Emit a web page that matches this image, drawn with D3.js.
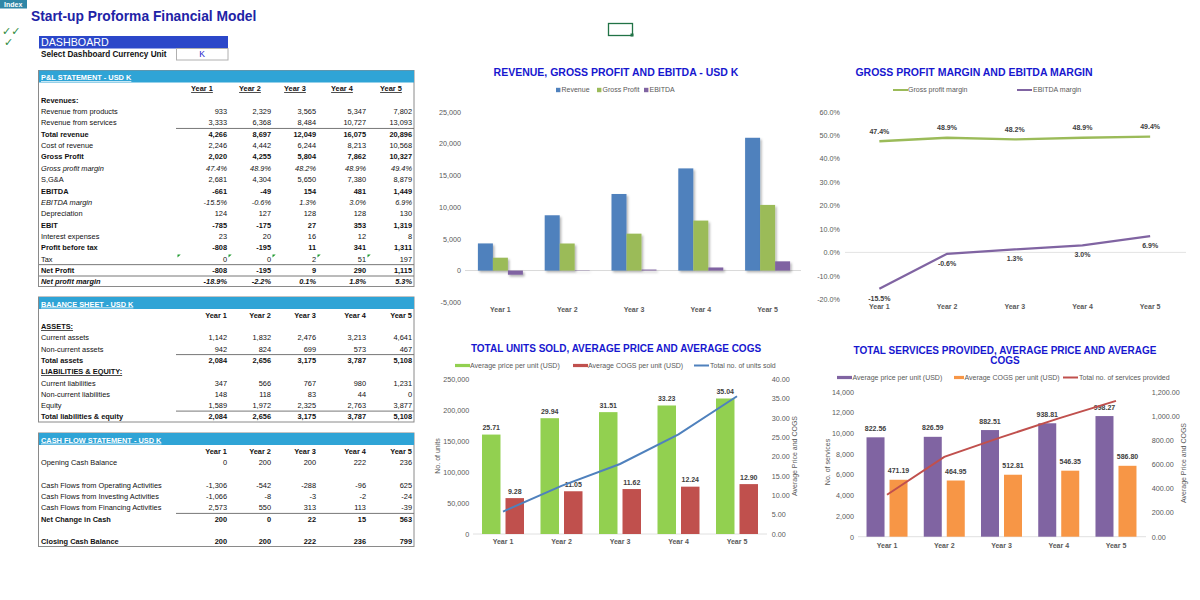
<!DOCTYPE html>
<html><head><meta charset="utf-8">
<script src="https://cdn.jsdelivr.net/npm/d3@7"></script>
<style>
body{margin:0;background:#fff;}
svg{font-family:"Liberation Sans",Arial,sans-serif;display:block;}
</style></head><body>
<svg id="c" width="1200" height="600"></svg>
<script>
// ---------------- DATA ----------------
const years = ["Year 1","Year 2","Year 3","Year 4","Year 5"];
// P&L (USD K)
const revenueProducts = [933,2329,3565,5347,7802];
const revenueServices = [3333,6368,8484,10727,13093];
const totalRevenue = [4266,8697,12049,16075,20896];
const costOfRevenue = [2246,4442,6244,8213,10568];
const grossProfit = [2020,4255,5804,7862,10327];
const grossProfitMargin = [47.4,48.9,48.2,48.9,49.4];
const sga = [2681,4304,5650,7380,8879];
const ebitda = [-661,-49,154,481,1449];
const ebitdaMargin = [-15.5,-0.6,1.3,3.0,6.9];
const depreciation = [124,127,128,128,130];
const ebit = [-785,-175,27,353,1319];
const interestExpenses = [23,20,16,12,8];
const profitBeforeTax = [-808,-195,11,341,1311];
const tax = [0,0,2,51,197];
const netProfit = [-808,-195,9,290,1115];
const netProfitMargin = [-18.9,-2.2,0.1,1.8,5.3];
// Balance sheet
const currentAssets = [1142,1832,2476,3213,4641];
const nonCurrentAssets = [942,824,699,573,467];
const totalAssets = [2084,2656,3175,3787,5108];
const currentLiabilities = [347,566,767,980,1231];
const nonCurrentLiabilities = [148,118,83,44,0];
const equity = [1589,1972,2325,2763,3877];
const totalLiabEquity = [2084,2656,3175,3787,5108];
// Cash flow
const openingCash = [0,200,200,222,236];
const cfOperating = [-1306,-542,-288,-96,625];
const cfInvesting = [-1066,-8,-3,-2,-24];
const cfFinancing = [2573,550,313,113,-39];
const netChangeCash = [200,0,22,15,563];
const closingCash = [200,200,222,236,799];
// Units chart
const unitPrice = [25.71,29.94,31.51,33.23,35.04];
const unitCogs = [9.28,11.05,11.62,12.24,12.90];
const unitsSold = [36290,77790,113140,160910,222660];
// Services chart
const servicePrice = [822.56,826.59,882.51,938.81,998.27];
const serviceCogs = [471.19,464.95,512.81,546.35,586.80];
const servicesProvided = [4052,7704,9613,11426,13116];
// Axis ticks
const ticksRev = [-5000,0,5000,10000,15000,20000,25000];
const ticksMargin = [-20,-10,0,10,20,30,40,50,60];
const ticksUnits = [0,50000,100000,150000,200000,250000];
const ticksUnitPrice = [0,5,10,15,20,25,30,35,40];
const ticksServices = [0,2000,4000,6000,8000,10000,12000,14000];
const ticksServicePrice = [0,200,400,600,800,1000,1200];

// ---------------- HELPERS ----------------
const L = d3.formatLocale({decimal:".",thousands:",",grouping:[3],currency:["$",""],minus:"-"});
const fInt = L.format(",");
const fPct = v => L.format(".1f")(v) + "%";
const f2 = L.format(",.2f");
const svg = d3.select("#c");
const AX = "#595959", LBL = "#404040";

const defs = svg.append("defs");
const flt = defs.append("filter").attr("id","sh").attr("x","-30%").attr("y","-30%").attr("width","180%").attr("height","180%");
flt.append("feDropShadow").attr("dx",1.5).attr("dy",1.8).attr("stdDeviation",1.3).attr("flood-color","#000").attr("flood-opacity",0.3);

// ---------------- HEADER ----------------
svg.append("rect").attr("x",0).attr("y",0).attr("width",27).attr("height",8.5).attr("fill","#2f86a6");
svg.append("text").attr("x",4).attr("y",7).attr("font-size",7).attr("font-weight","bold").attr("fill","#fff").text("Index");
svg.append("text").attr("x",31).attr("y",20.5).attr("font-size",13.8).attr("font-weight","bold").attr("fill","#1e23a6").text("Start-up Proforma Financial Model");
svg.append("text").attr("x",2).attr("y",35).attr("font-size",11).attr("fill","#2e8b3e").attr("font-family","DejaVu Sans").text("\u2713\u2713");
svg.append("text").attr("x",4).attr("y",46).attr("font-size",11).attr("fill","#2e8b3e").attr("font-family","DejaVu Sans").text("\u2713");
svg.append("rect").attr("x",39).attr("y",36).attr("width",189).attr("height",12.5).attr("fill","#2b47c9");
svg.append("text").attr("x",41).attr("y",46.3).attr("font-size",10.7).attr("fill","#fff").text("DASHBOARD");
svg.append("text").attr("x",41).attr("y",57).attr("font-size",8.2).attr("font-weight","bold").attr("fill","#111").text("Select Dashboard Currency Unit");
svg.append("rect").attr("x",176.5).attr("y",48.5).attr("width",51.5).attr("height",11.5).attr("fill","#fff").attr("stroke","#b0b0b0");
svg.append("text").attr("x",202).attr("y",57.3).attr("text-anchor","middle").attr("font-size",8.5).attr("fill","#1a1acc").text("K");
// selected cell marker
svg.append("rect").attr("x",608.5).attr("y",23.5).attr("width",24).attr("height",12).attr("fill","none").attr("stroke","#217346").attr("stroke-width",1.3);
svg.append("rect").attr("x",630.5).attr("y",33.5).attr("width",3).attr("height",3).attr("fill","#217346");

// ---------------- TABLES ----------------
const colR = [227,271,316,366,412];
const colLeft = [176,227,271,316,366];
const FS = 7.4;
function table(cfg){
  const g = svg.append("g");
  g.append("rect").attr("x",38.5).attr("y",cfg.top+0.5).attr("width",375.5).attr("height",cfg.bottom-cfg.top).attr("fill","#fff").attr("stroke","#8a8a8a");
  g.append("rect").attr("x",39).attr("y",cfg.top+0.5).attr("width",375).attr("height",12).attr("fill","#2fa4d6");
  g.append("text").attr("x",41).attr("y",cfg.top+10).attr("font-size",FS).attr("font-weight","bold").attr("fill","#fff")
    .attr("text-decoration","underline").text(cfg.title);
  // year headers
  g.selectAll("text.yh").data(years).join("text").attr("class","yh")
    .attr("x",(d,i)=>cfg.headCenters ? cfg.headCenters[i] : colR[i])
    .attr("y",cfg.yearY+2.7).attr("font-size",FS).attr("font-weight","bold").attr("fill","#111")
    .attr("text-anchor",cfg.headCenters?"middle":"end")
    .attr("text-decoration",cfg.headCenters?"underline":null).text(d=>d);
  cfg.rows.forEach((r,ri)=>{
    if(!r) return;
    const cy = cfg.firstY + ri*cfg.step;
    g.append("text").attr("x",41).attr("y",cy+2.7).attr("font-size",FS)
      .attr("font-weight",r.b?"bold":null).attr("font-style",r.i?"italic":null)
      .attr("text-decoration",r.u?"underline":null).attr("fill","#111").text(r.label);
    if(r.line){
      g.append("line").attr("x1",r.line==="full"?39:176).attr("x2",414).attr("y1",cy-5.6).attr("y2",cy-5.6)
       .attr("stroke","#777").attr("stroke-width",1);
    }
    if(r.v){
      g.selectAll(null).data(r.v).join("text").attr("x",(d,i)=>colR[i]).attr("y",cy+2.7)
        .attr("text-anchor","end").attr("font-size",FS)
        .attr("font-weight",r.b?"bold":null).attr("font-style",r.i?"italic":null).attr("fill","#111")
        .text(d=>r.pct?fPct(d):fInt(d));
      if(r.flag){
        g.selectAll(null).data(r.v).join("path")
         .attr("d",(d,i)=>{const x=colLeft[i]+1.5,y=cy-4.5;return `M${x},${y}h3.2l-3.2,3.2z`;})
         .attr("fill","#1e9a2e");
      }
    }
  });
}
table({title:"P&L STATEMENT - USD K", top:70, bottom:286, yearY:88.3, headCenters:[202,250,295,342,391],
  firstY:100, step:11.35, rows:[
  {label:"Revenues:",b:1},
  {label:"Revenue from products",v:revenueProducts},
  {label:"Revenue from services",v:revenueServices},
  {label:"Total revenue",v:totalRevenue,b:1,line:"part"},
  {label:"Cost of revenue",v:costOfRevenue},
  {label:"Gross Profit",v:grossProfit,b:1},
  {label:"Gross profit margin",v:grossProfitMargin,i:1,pct:1},
  {label:"S,G&A",v:sga},
  {label:"EBITDA",v:ebitda,b:1},
  {label:"EBITDA margin",v:ebitdaMargin,i:1,pct:1},
  {label:"Depreciation",v:depreciation},
  {label:"EBIT",v:ebit,b:1},
  {label:"Interest expenses",v:interestExpenses},
  {label:"Profit before tax",v:profitBeforeTax,b:1},
  {label:"Tax",v:tax,flag:1},
  {label:"Net Profit",v:netProfit,b:1,line:"full"},
  {label:"Net profit margin",v:netProfitMargin,b:1,i:1,pct:1,line:"full"}
]});
table({title:"BALANCE SHEET - USD K", top:296.5, bottom:421.5, yearY:315,
  firstY:326.3, step:11.3, rows:[
  {label:"ASSETS:",b:1,u:1},
  {label:"Current assets",v:currentAssets},
  {label:"Non-current assets",v:nonCurrentAssets},
  {label:"Total assets",v:totalAssets,b:1,line:"part"},
  {label:"LIABILITIES & EQUITY:",b:1,u:1},
  {label:"Current liabilities",v:currentLiabilities},
  {label:"Non-current liabilities",v:nonCurrentLiabilities},
  {label:"Equity",v:equity},
  {label:"Total liabilities & equity",v:totalLiabEquity,b:1,line:"part"}
]});
table({title:"CASH FLOW STATEMENT -  USD K", top:432.5, bottom:546, yearY:451.7,
  firstY:462.5, step:11.3, rows:[
  {label:"Opening Cash Balance",v:openingCash},
  null,
  {label:"Cash Flows from Operating Activities",v:cfOperating},
  {label:"Cash Flows from Investing Activities",v:cfInvesting},
  {label:"Cash Flows from Financing Activities",v:cfFinancing},
  {label:"Net Change in Cash",v:netChangeCash,b:1,line:"part"},
  null,
  {label:"Closing Cash Balance",v:closingCash,b:1}
]});

// ---------------- CHART UTILITIES ----------------
function title(lines,cx,y,fs){
  lines.forEach((t,i)=>svg.append("text").attr("x",cx).attr("y",y+i*10.5).attr("text-anchor","middle")
    .attr("font-size",fs).attr("font-weight","bold").attr("fill","#1717cf").text(t));
}
function styleAxis(g,fs,bold){
  g.select(".domain").remove();
  g.selectAll("text").attr("font-size",fs).attr("fill",AX).attr("font-weight",bold?"bold":null)
   .attr("font-family","'Liberation Sans',Arial,sans-serif");
}
function leftAxis(scale,ticks,fmt,x){
  const g = svg.append("g").attr("transform",`translate(${x},0)`)
    .call(d3.axisLeft(scale).tickValues(ticks).tickFormat(fmt).tickSize(0).tickPadding(0));
  styleAxis(g,7.2,false);
}
function rightAxis(scale,ticks,fmt,x){
  const g = svg.append("g").attr("transform",`translate(${x},0)`)
    .call(d3.axisRight(scale).tickValues(ticks).tickFormat(fmt).tickSize(0).tickPadding(0));
  styleAxis(g,7.2,false);
}
function bottomAxis(scale,y){
  const g = svg.append("g").attr("transform",`translate(0,${y-3})`)
    .call(d3.axisBottom(scale).tickSize(0).tickPadding(0));
  styleAxis(g,7,true);
}
function vTitle(t,x,y){
  svg.append("text").attr("transform",`translate(${x},${y}) rotate(-90)`).attr("text-anchor","middle")
    .attr("dy","0.35em").attr("font-size",7).attr("fill",AX).text(t);
}
function legend(items,y){
  items.forEach(it=>{
    if(it.type==="sq") svg.append("rect").attr("x",it.x).attr("y",y-2.2).attr("width",4.4).attr("height",4.4).attr("fill",it.color);
    else if(it.type==="bar") svg.append("rect").attr("x",it.x).attr("y",y-1.6).attr("width",it.w).attr("height",3.2).attr("fill",it.color);
    else svg.append("line").attr("x1",it.x).attr("x2",it.x+it.w).attr("y1",y).attr("y2",y).attr("stroke",it.color).attr("stroke-width",2);
    svg.append("text").attr("x",it.tx).attr("y",y).attr("dy","0.35em").attr("font-size",7).attr("fill",AX).text(it.label);
  });
}

// ---------------- CHART 1: Revenue, GP, EBITDA ----------------
title(["REVENUE, GROSS PROFIT AND EBITDA - USD K"],616,76,10.5);
const series1 = [
  {name:"Revenue",values:totalRevenue,color:"#4f81bd"},
  {name:"Gross Profit",values:grossProfit,color:"#9bbb59"},
  {name:"EBITDA",values:ebitda,color:"#8064a2"}];
legend([
  {type:"sq",x:556,tx:561.5,color:series1[0].color,label:"Revenue"},
  {type:"sq",x:597,tx:602.5,color:series1[1].color,label:"Gross Profit"},
  {type:"sq",x:644,tx:649.5,color:series1[2].color,label:"EBITDA"}],90);
const x1 = d3.scaleBand().domain(years).range([467,801]);
const y1 = d3.scaleLinear().domain([-5000,25000]).range([302.3,111.7]);
const s1 = d3.scaleBand().domain(series1.map(s=>s.name)).range([0,45]);
leftAxis(y1,ticksRev,fInt,461);
svg.append("line").attr("x1",465).attr("x2",801).attr("y1",y1(0)).attr("y2",y1(0)).attr("stroke","#d9d9d9");
series1.forEach(s=>{
  svg.append("g").attr("filter","url(#sh)").selectAll("rect").data(s.values).join("rect")
    .attr("x",(d,i)=>x1(years[i])+(x1.bandwidth()-45)/2+s1(s.name))
    .attr("width",s1.bandwidth())
    .attr("y",d=>Math.min(y1(d),y1(0))).attr("height",d=>Math.abs(y1(d)-y1(0)))
    .attr("fill",s.color);
});
bottomAxis(x1,310);

// ---------------- CHART 2: Margins ----------------
title(["GROSS PROFIT MARGIN AND EBITDA MARGIN"],974,75.5,10.5);
legend([
  {type:"line",x:893,w:15,tx:908,color:"#9bbb59",label:"Gross profit margin"},
  {type:"line",x:1017,w:15,tx:1033,color:"#8064a2",label:"EBITDA margin"}],90);
const x2 = d3.scaleBand().domain(years).range([845.5,1184]);
const y2 = d3.scaleLinear().domain([-20,60]).range([299.3,111.7]);
leftAxis(y2,ticksMargin,fPct,840);
svg.append("line").attr("x1",845).attr("x2",1186).attr("y1",y2(0)).attr("y2",y2(0)).attr("stroke","#e3e3e3");
const cx2 = i=>x2(years[i])+x2.bandwidth()/2;
const margins = [
  {values:grossProfitMargin,color:"#9bbb59",dy:-10},
  {values:ebitdaMargin,color:"#8064a2",dy:9.5}];
margins.forEach(m=>{
  svg.append("path").datum(m.values).attr("fill","none").attr("stroke",m.color).attr("stroke-width",2.3)
    .attr("d",d3.line().x((d,i)=>cx2(i)).y(d=>y2(d)));
  svg.append("g").selectAll("text").data(m.values).join("text")
    .attr("x",(d,i)=>cx2(i)).attr("y",d=>y2(d)+m.dy).attr("dy","0.35em").attr("text-anchor","middle")
    .attr("font-size",7).attr("font-weight","bold").attr("fill",LBL).text(fPct);
});
bottomAxis(x2,307);

// ---------------- CHART 3: Units ----------------
title(["TOTAL UNITS SOLD, AVERAGE PRICE AND AVERAGE COGS"],616,352,10);
legend([
  {type:"bar",x:455,w:15,tx:470,color:"#92d050",label:"Average price per unit (USD)"},
  {type:"bar",x:573,w:15,tx:588,color:"#c0504d",label:"Average COGS per unit (USD)"},
  {type:"line",x:694,w:15,tx:710,color:"#4f81bd",label:"Total no. of units sold"}],365.5);
const x3 = d3.scaleBand().domain(years).range([473.75,766.25]);
const yL3 = d3.scaleLinear().domain([0,250000]).range([534,379.3]);
const yR3 = d3.scaleLinear().domain([0,40]).range([534,379.3]);
const s3 = d3.scaleBand().domain(["price","cogs"]).range([0,42]).paddingInner(0.213);
leftAxis(yL3,ticksUnits,fInt,469.3);
rightAxis(yR3,ticksUnitPrice,L.format(".2f"),771.7);
vTitle("No. of units",438,456);
vTitle("Average Price and COGS",794.5,456);
svg.append("line").attr("x1",473).attr("x2",767).attr("y1",yL3(0)).attr("y2",yL3(0)).attr("stroke","#e0e0e0");
[{k:"price",values:unitPrice,color:"#92d050"},{k:"cogs",values:unitCogs,color:"#c0504d"}].forEach(s=>{
  const bx = i=>x3(years[i])+(x3.bandwidth()-42)/2+s3(s.k);
  svg.append("g").selectAll("rect").data(s.values).join("rect")
    .attr("x",(d,i)=>bx(i)).attr("width",s3.bandwidth())
    .attr("y",d=>yR3(d)).attr("height",d=>yR3(0)-yR3(d)).attr("fill",s.color);
  svg.append("g").selectAll("text").data(s.values).join("text")
    .attr("x",(d,i)=>bx(i)+s3.bandwidth()/2).attr("y",d=>yR3(d)-7).attr("dy","0.35em").attr("text-anchor","middle")
    .attr("font-size",7).attr("font-weight","bold").attr("fill",LBL).text(L.format(".2f"));
});
svg.append("path").datum(unitsSold).attr("fill","none").attr("stroke","#4f81bd").attr("stroke-width",2)
  .attr("d",d3.line().x((d,i)=>x3(years[i])+x3.bandwidth()/2).y(d=>yL3(d)));
bottomAxis(x3,542);

// ---------------- CHART 4: Services ----------------
title(["TOTAL SERVICES PROVIDED, AVERAGE PRICE AND AVERAGE","COGS"],1005,353.5,10);
legend([
  {type:"bar",x:837,w:15,tx:852.5,color:"#8064a2",label:"Average price per unit (USD)"},
  {type:"bar",x:954,w:10,tx:964.5,color:"#f79646",label:"Average COGS per unit (USD)"},
  {type:"line",x:1063,w:15,tx:1079,color:"#c0504d",label:"Total no. of services provided"}],377.5);
const x4 = d3.scaleBand().domain(years).range([858.4,1144.6]);
const yL4 = d3.scaleLinear().domain([0,14000]).range([536.7,391.7]);
const yR4 = d3.scaleLinear().domain([0,1200]).range([536.7,391.7]);
const s4 = d3.scaleBand().domain(["price","cogs"]).range([0,41]).paddingInner(0.217);
leftAxis(yL4,ticksServices,fInt,854);
rightAxis(yR4,ticksServicePrice,f2,1151.7);
vTitle("No. of services",828,462);
vTitle("Average Price and COGS",1183.5,463);
svg.append("line").attr("x1",858).attr("x2",1146).attr("y1",yL4(0)).attr("y2",yL4(0)).attr("stroke","#e0e0e0");
[{k:"price",values:servicePrice,color:"#8064a2"},{k:"cogs",values:serviceCogs,color:"#f79646"}].forEach(s=>{
  const bx = i=>x4(years[i])+(x4.bandwidth()-41)/2+s4(s.k);
  svg.append("g").selectAll("rect").data(s.values).join("rect")
    .attr("x",(d,i)=>bx(i)).attr("width",s4.bandwidth())
    .attr("y",d=>yR4(d)).attr("height",d=>yR4(0)-yR4(d)).attr("fill",s.color);
  svg.append("g").selectAll("text").data(s.values).join("text")
    .attr("x",(d,i)=>bx(i)+s4.bandwidth()/2).attr("y",d=>yR4(d)-9).attr("dy","0.35em").attr("text-anchor","middle")
    .attr("font-size",7).attr("font-weight","bold").attr("fill",LBL).text(L.format(".2f"));
});
svg.append("path").datum(servicesProvided).attr("fill","none").attr("stroke","#c0504d").attr("stroke-width",2)
  .attr("d",d3.line().x((d,i)=>x4(years[i])+x4.bandwidth()/2).y(d=>yL4(d)));
bottomAxis(x4,546);
</script>
</body></html>
